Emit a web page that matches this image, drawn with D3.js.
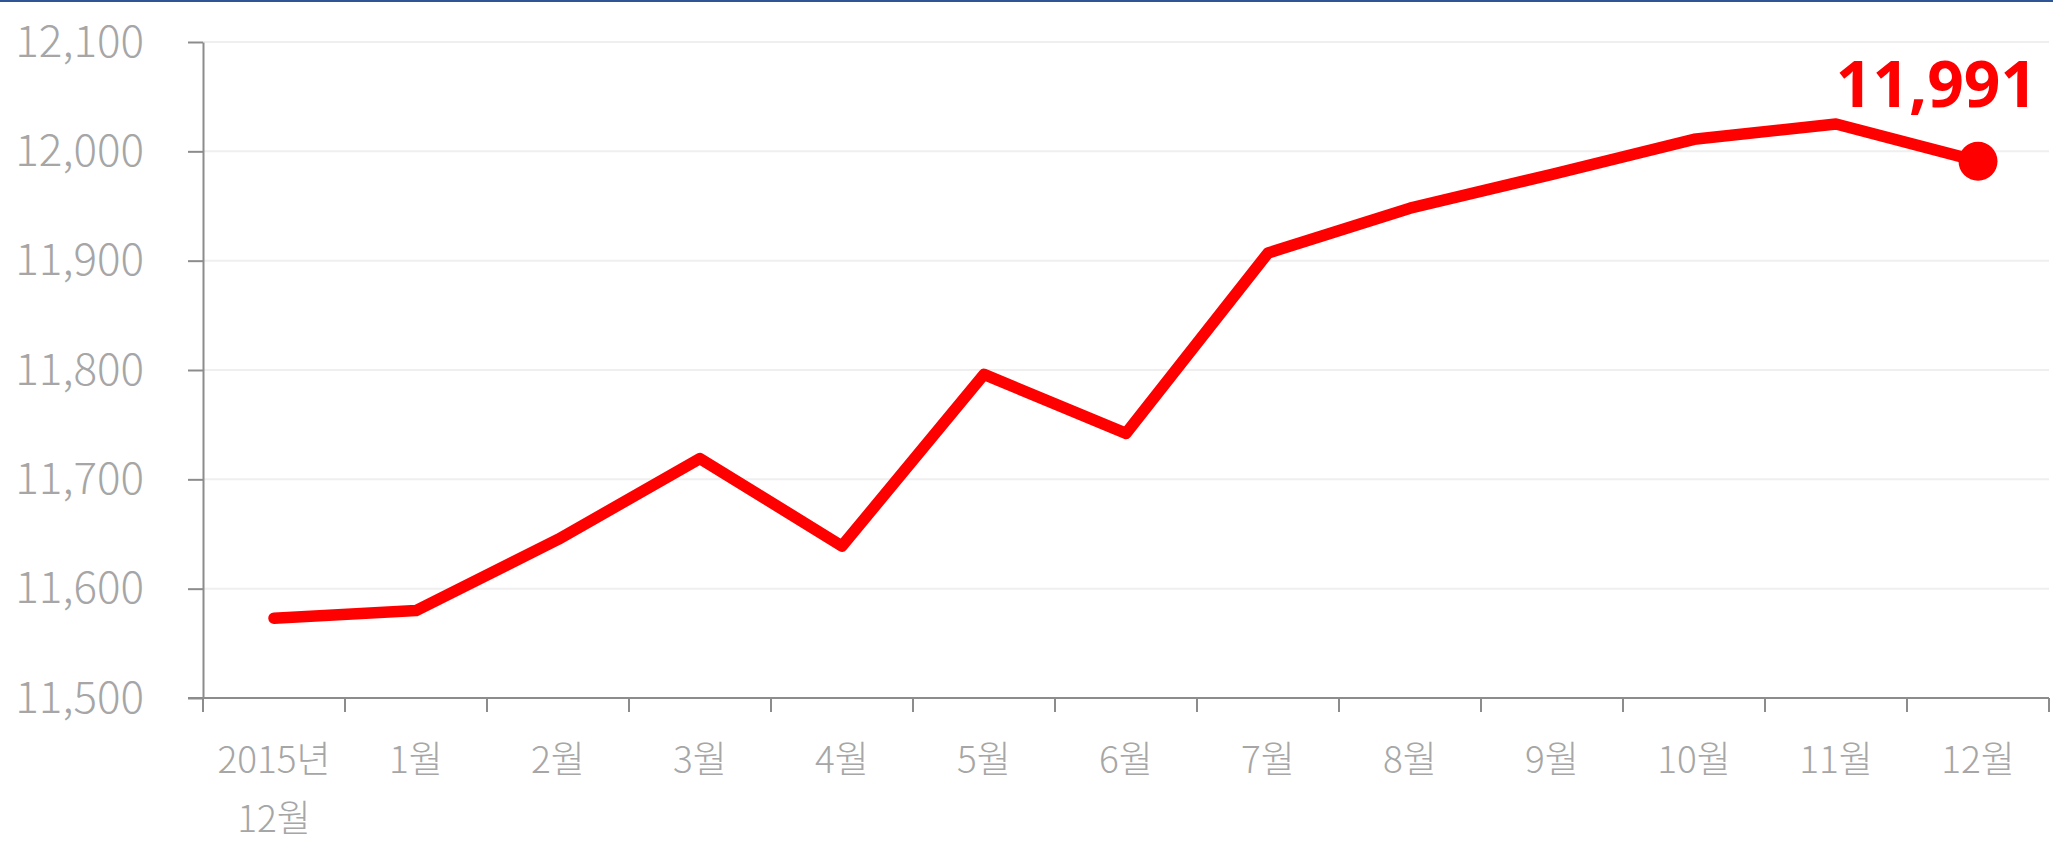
<!DOCTYPE html>
<html>
<head>
<meta charset="utf-8">
<script src="https://cdn.jsdelivr.net/npm/d3@7"></script>
<style>
  body { margin: 0; background: #fff; }
  svg text { font-family: "Noto Sans CJK KR", "Open Sans", sans-serif; }
</style>
</head>
<body>
<div id="chart"></div>
<script>
// data
const months = ["2015년\n12월", "1월", "2월", "3월", "4월", "5월", "6월", "7월", "8월", "9월", "10월", "11월", "12월"];
const values = [11573, 11580, 11645, 11719, 11639, 11796, 11742, 11907, 11948, 11979, 12011, 12025, 11991];
const yTicks = [11500, 11600, 11700, 11800, 11900, 12000, 12100];

const width = 2053;
const height = 843;

const svg = d3.select("div#chart")
	.append("svg")
		.attr("width", width)
		.attr("height", height);

// thin blue strip at the very top
svg.append("rect")
	.attr("x", 0).attr("y", 0)
	.attr("width", width).attr("height", 2)
	.attr("fill", "#2f5597");

const x = d3.scaleBand().domain(months).range([203, 2049]).padding(0);
const y = d3.scaleLinear().domain([11500, 12100]).range([698, 42]);

// grid
svg.append("g")
	.selectAll("line")
	.data(yTicks.slice(1))
	.enter()
	.append("line")
		.attr("x1", 203).attr("x2", 2049)
		.attr("y1", d => y(d)).attr("y2", d => y(d))
		.attr("stroke", "#efefef")
		.attr("stroke-width", 2);

// y axis
const axisY = d3.axisLeft(y)
	.tickValues(yTicks)
	.tickFormat(d3.format(","))
	.tickSize(15)
	.tickSizeOuter(0)
	.tickPadding(44);

const gy = svg.append("g")
	.attr("transform", `translate(${203},0)`)
	.call(axisY);
gy.select(".domain").attr("stroke", "#8c8c8c").attr("stroke-width", 2);
gy.selectAll(".tick line").attr("stroke", "#8c8c8c").attr("stroke-width", 2);
gy.selectAll(".tick text")
	.attr("fill", "#a6a6a6")
	.style("font-size", "44px")
	.style("font-weight", 300);

// x axis
const axisX = d3.axisBottom(x).tickSize(0).tickSizeOuter(0).tickPadding(0);
const gx = svg.append("g")
	.attr("transform", `translate(0,${698})`)
	.call(axisX);
gx.select(".domain").remove();
gx.append("line")
	.attr("x1", 188).attr("x2", 2049)
	.attr("y1", 0).attr("y2", 0)
	.attr("stroke", "#8c8c8c").attr("stroke-width", 2);

const bounds = months.map(d => x(d)).concat([x.range()[1]]);
gx.selectAll(".bound")
	.data(bounds)
	.enter()
	.append("line")
		.attr("class", "bound")
		.attr("x1", d => d).attr("x2", d => d)
		.attr("y1", 0).attr("y2", 14)
		.attr("stroke", "#8c8c8c").attr("stroke-width", 2);

gx.selectAll(".tick text").each(function(d) {
	const t = d3.select(this);
	const lines = d.split("\n");
	t.text(null)
		.attr("y", 0)
		.attr("dy", null)
		.attr("fill", "#a6a6a6")
		.style("font-size", "37px")
		.style("font-weight", 300);
	lines.forEach((l, i) => {
		t.append("tspan")
			.attr("x", 0)
			.attr("y", 75 + i * 59)
			.text(l);
	});
});

// line
const line = d3.line()
	.x((d, i) => x(months[i]) + x.bandwidth() / 2)
	.y(d => y(d));

svg.append("path")
	.datum(values)
	.attr("fill", "none")
	.attr("stroke", "#ff0000")
	.attr("stroke-width", 11.5)
	.attr("stroke-linejoin", "round")
	.attr("stroke-linecap", "round")
	.attr("d", line);

const last = values.length - 1;
const lx = x(months[last]) + x.bandwidth() / 2;
const ly = y(values[last]);

svg.append("circle")
	.attr("cx", lx).attr("cy", ly)
	.attr("r", 19.5)
	.attr("fill", "#ff0000");

svg.append("text")
	.attr("x", lx + 59)
	.attr("y", ly - 54)
	.attr("text-anchor", "end")
	.attr("fill", "#ff0000")
	.style("font-family", "'Open Sans', sans-serif")
	.style("font-size", "64px")
	.style("font-weight", "bold")
	.text(d3.format(",")(values[last]));
</script>
</body>
</html>
